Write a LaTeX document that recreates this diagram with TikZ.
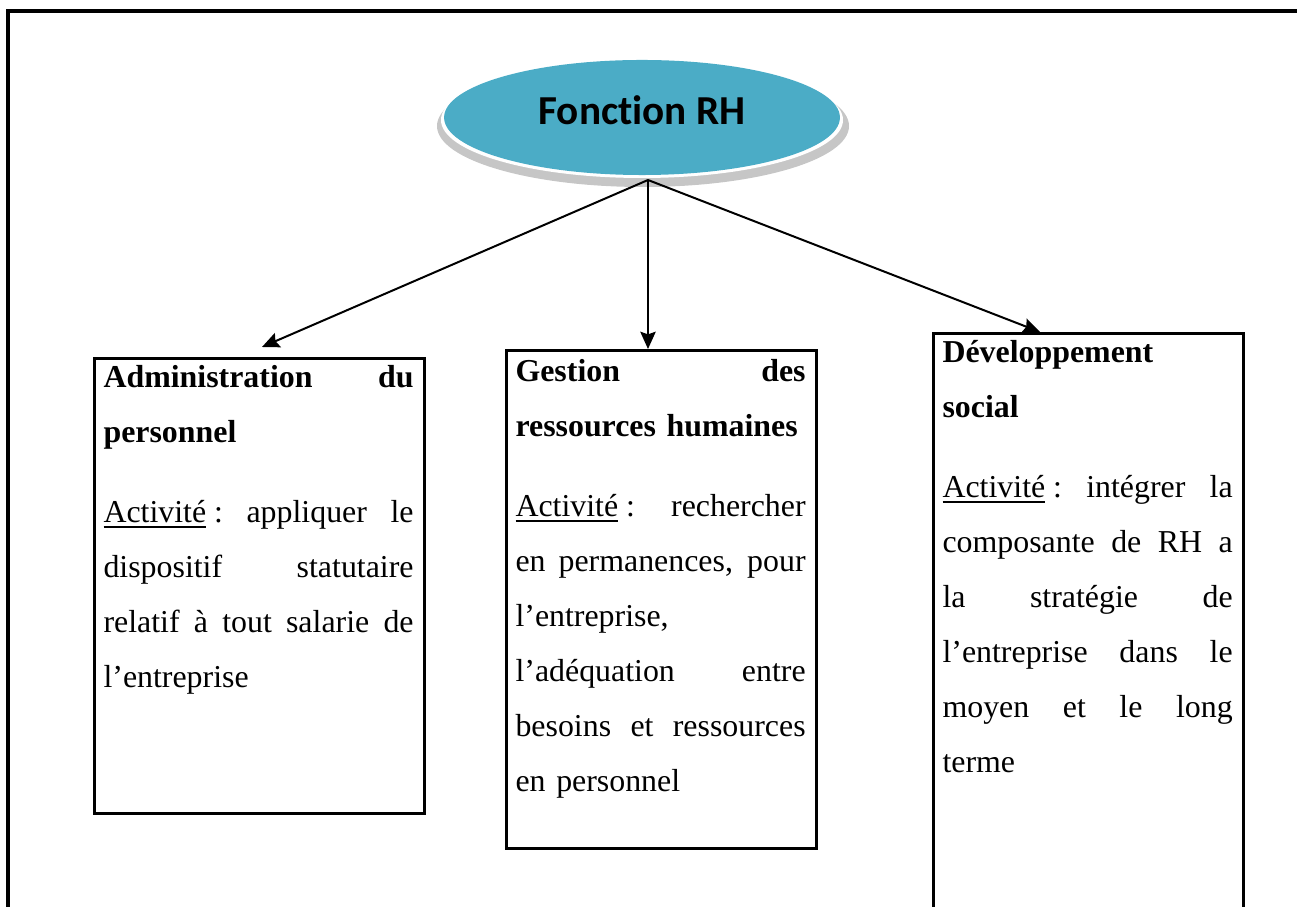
\documentclass[tikz,border=0pt]{standalone}
\usepackage{fontspec}
\setmainfont{Liberation Serif}
\newfontfamily\calibri[Ligatures=NoCommon]{Carlito}
\usetikzlibrary{arrows.meta,calc,shapes.geometric}
\definecolor{rhblue}{HTML}{4BACC6}
\newcommand\jline[1]{\hbox to\hsize{\spaceskip=0.25em plus 1fil\relax
	\xspaceskip=\spaceskip #1}\par}
\newcommand\act{\underline{Activité}\hspace{0.25em}:}

\begin{document}
\begin{tikzpicture}[x=0.3764pt, y=-0.3764pt,
	box/.style={draw, line width=1pt, anchor=north west, inner sep=0pt, minimum width=#1},
	box/.default=124.2pt,
	txt/.style={anchor=base west, inner sep=0pt, text width=#1,
		font=\fontsize{12}{20.7}\selectfont},
	txt/.default=109.2pt,
	link/.style={-{Stealth[length=6.5pt,width=5.8pt,inset=1pt]}, line width=0.75pt}]
	\useasboundingbox (0,0) rectangle (1297,907);
	\clip (0,0) rectangle (1297,907);
	% outer frame
	\draw[line width=1.15pt] (8,950) -- (8,11) -- (1350,11);
	% head ellipse with its rim
	\fill[gray!45] (643,126) ellipse [x radius=206, y radius=61];
	\fill[white] (642,120) ellipse [x radius=201, y radius=58];
	\node[ellipse, fill=rhblue, inner sep=0pt, minimum width=149pt, minimum height=43.3pt] (fonction) at (642,117.5) {};
	\node[font=\calibri\bfseries\fontsize{15.5}{18}\selectfont] (fonctionlbl) at (642,110) {Fonction RH};
	\coordinate (hub) at (648,180);
	% boxes
	\node[box, minimum height=171.3pt] (admin) at (93,357) {};
	\node[box=116.7pt, minimum height=187.4pt] (gestion) at (505,349) {};
	\node[box=116.7pt, minimum height=230pt] (dev) at (932,332) {};
	% texts
	\node[txt=116.7pt] (admintxt) at (103,388) {%
		\jline{\textbf{Administration du}}
		\textbf{personnel}\par
		\vspace{9.4pt}
		\jline{\act{} appliquer le}
		\jline{dispositif statutaire}
		\jline{relatif à tout salarie de}
		l’entreprise\par};
	\node[txt] (gestiontxt) at (515,382) {%
		\jline{\textbf{Gestion des}}
		\textbf{ressources humaines}\par
		\vspace{9.4pt}
		\jline{\act{} rechercher}
		\jline{en permanences, pour}
		l’entreprise,\par
		\jline{l’adéquation entre}
		\jline{besoins et ressources}
		en personnel\par};
	\node[txt] (devtxt) at (942,363) {%
		\textbf{Développement}\par
		\textbf{social}\par
		\vspace{9.4pt}
		\jline{\act{} intégrer la}
		\jline{composante de RH a}
		\jline{la stratégie de}
		\jline{l’entreprise dans le}
		\jline{moyen et le long}
		terme\par};
	% arrows
	\draw[link] (hub) -- ($(admin.north west)+(169,-10)$);
	\draw[link] (hub) -- (gestion.north -| hub);
	\draw[link] (hub) -- ($(dev.north west)+(108,0)$);
\end{tikzpicture}
\end{document}
